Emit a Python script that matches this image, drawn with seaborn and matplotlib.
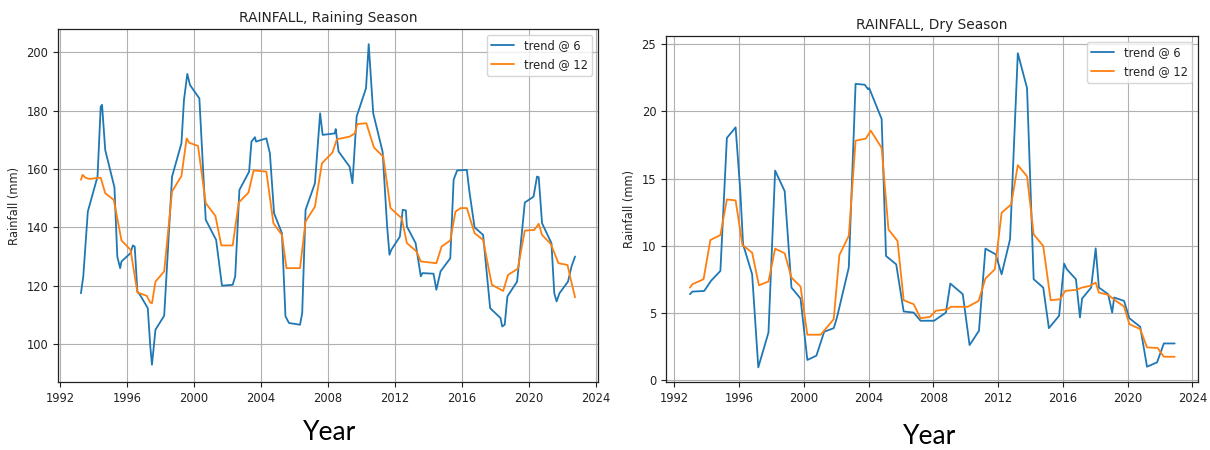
import matplotlib
matplotlib.use("Agg")
import matplotlib.pyplot as plt
import seaborn as sns
import pandas as pd

# ---------------- data ----------------
rain_t6_year = [1993.25, 1993.39, 1993.66, 1994.24, 1994.43, 1994.51, 1994.70, 1995.25, 1995.42, 1995.59,
                1995.67, 1996.20, 1996.35, 1996.46, 1996.62, 1996.77, 1997.24, 1997.39, 1997.49, 1997.70,
                1998.22, 1998.69, 1999.25, 1999.40, 1999.60, 1999.76, 2000.32, 2000.70, 2001.32, 2001.67,
                2002.31, 2002.46, 2002.71, 2003.29, 2003.43, 2003.64, 2003.70, 2004.32, 2004.53, 2004.78,
                2005.25, 2005.46, 2005.67, 2006.33, 2006.46, 2006.66, 2007.22, 2007.53, 2007.68, 2008.40,
                2008.46, 2008.63, 2009.29, 2009.46, 2009.71, 2010.27, 2010.43, 2010.70, 2011.26, 2011.53,
                2011.67, 2011.78, 2012.29, 2012.46, 2012.65, 2012.71, 2013.23, 2013.54, 2013.64, 2014.30,
                2014.47, 2014.72, 2015.30, 2015.50, 2015.71, 2016.29, 2016.43, 2016.75, 2017.26, 2017.68,
                2018.30, 2018.40, 2018.55, 2018.71, 2019.29, 2019.75, 2020.27, 2020.48, 2020.58, 2020.78,
                2021.34, 2021.51, 2021.65, 2021.82, 2022.33, 2022.54, 2022.75]
rain_t6 = [117.4, 123.2, 145.4, 157.4, 181.4, 182.0, 166.5, 153.7, 130.0, 126.0,
           128.3, 131.1, 133.8, 133.4, 118.0, 116.9, 112.3, 99.2, 92.9, 104.9,
           109.7, 157.4, 168.8, 183.6, 192.6, 188.8, 184.2, 142.6, 135.7, 120.0,
           120.3, 123.2, 152.8, 159.1, 169.4, 170.9, 169.4, 170.5, 165.4, 144.8,
           138.0, 109.5, 107.2, 106.6, 110.6, 146.0, 155.1, 179.1, 171.7, 172.2,
           173.7, 166.0, 160.8, 155.1, 178.0, 187.7, 202.8, 179.1, 165.9, 140.3,
           130.6, 132.3, 136.8, 146.0, 145.8, 140.3, 134.6, 123.2, 124.3, 124.1,
           118.6, 124.9, 129.4, 156.3, 159.5, 159.7, 152.8, 140.0, 137.4, 112.3,
           108.9, 106.0, 106.6, 116.3, 121.4, 148.5, 150.5, 157.4, 157.2, 141.4,
           134.6, 117.4, 114.6, 117.4, 121.4, 126.6, 130.0]

rain_t12_year = [1993.25, 1993.35, 1993.52, 1993.76, 1994.43, 1994.70, 1995.21, 1995.42, 1995.67, 1996.21,
                 1996.62, 1997.18, 1997.39, 1997.49, 1997.70, 1998.22, 1998.69, 1999.25, 1999.56, 1999.71,
                 2000.24, 2000.70, 2001.28, 2001.63, 2002.31, 2002.67, 2003.25, 2003.56, 2004.32, 2004.74,
                 2005.25, 2005.52, 2006.33, 2006.66, 2007.22, 2007.64, 2008.26, 2008.53, 2009.29, 2009.60,
                 2009.75, 2010.29, 2010.74, 2011.30, 2011.73, 2012.40, 2012.71, 2013.29, 2013.54, 2014.47,
                 2014.78, 2015.30, 2015.61, 2015.92, 2016.29, 2016.75, 2017.26, 2017.78, 2018.46, 2018.75,
                 2019.33, 2019.75, 2020.31, 2020.58, 2020.78, 2021.30, 2021.76, 2022.30, 2022.50, 2022.75]
rain_t12 = [156.3, 158.0, 157.0, 156.6, 157.0, 151.7, 149.4, 143.1, 135.5, 132.3,
            117.7, 116.5, 114.2, 114.0, 121.4, 124.9, 152.3, 157.6, 170.5, 169.0,
            167.9, 148.3, 143.9, 133.8, 133.8, 148.5, 151.9, 159.5, 159.1, 141.4,
            137.4, 126.0, 126.0, 142.0, 147.1, 162.0, 165.6, 170.2, 171.1, 172.2,
            175.4, 175.7, 167.4, 164.2, 146.6, 143.1, 134.6, 131.7, 128.3, 127.7,
            133.4, 135.5, 145.4, 146.6, 146.6, 138.0, 135.7, 120.3, 118.2, 123.7,
            125.8, 138.9, 139.1, 141.2, 137.4, 134.3, 127.7, 127.1, 122.0, 116.0]

dry_t6_year = [1992.97, 1993.12, 1993.85, 1994.27, 1994.85, 1995.25, 1995.79, 1996.08, 1996.25, 1996.81,
               1997.19, 1997.82, 1998.23, 1998.82, 1999.24, 1999.80, 2000.22, 2000.78, 2001.26, 2001.85,
               2002.05, 2002.78, 2003.20, 2003.77, 2003.97, 2004.04, 2004.81, 2005.08, 2005.71, 2006.17,
               2006.79, 2007.21, 2008.05, 2008.78, 2009.05, 2009.82, 2010.24, 2010.82, 2011.22, 2011.85,
               2012.22, 2012.74, 2013.22, 2013.79, 2014.20, 2014.79, 2015.14, 2015.77, 2016.08, 2016.25,
               2016.81, 2017.06, 2017.19, 2017.75, 2018.03, 2018.23, 2018.80, 2019.05, 2019.17, 2019.78,
               2020.11, 2020.78, 2021.20, 2021.82, 2022.24, 2022.91]
dry_t6 = [6.39, 6.58, 6.63, 7.38, 8.12, 18.02, 18.81, 14.06, 10.10, 7.87,
          0.94, 3.54, 15.59, 14.06, 6.88, 6.06, 1.49, 1.81, 3.59, 3.86,
          4.65, 8.37, 22.05, 21.98, 21.65, 21.73, 19.43, 9.23, 8.61, 5.10,
          5.02, 4.41, 4.41, 5.02, 7.18, 6.39, 2.60, 3.66, 9.78, 9.36,
          7.87, 10.47, 24.33, 21.73, 7.50, 6.88, 3.86, 4.78, 8.66, 8.24,
          7.50, 4.65, 6.06, 6.88, 9.80, 6.88, 6.39, 5.02, 6.14, 5.89,
          4.60, 3.96, 0.99, 1.31, 2.72, 2.72]

dry_t12_year = [1992.97, 1993.12, 1993.81, 1994.23, 1994.85, 1995.25, 1995.79, 1996.21, 1996.81, 1997.23,
                1997.82, 1998.23, 1998.82, 1999.24, 1999.80, 2000.22, 2001.05, 2001.85, 2002.20, 2002.78,
                2003.20, 2003.83, 2004.14, 2004.81, 2005.23, 2005.79, 2006.17, 2006.79, 2007.21, 2007.80,
                2008.15, 2008.88, 2009.09, 2010.13, 2010.80, 2011.22, 2011.80, 2012.22, 2012.81, 2013.22,
                2013.79, 2014.20, 2014.79, 2015.25, 2015.83, 2016.15, 2016.81, 2017.19, 2017.65, 2018.03,
                2018.23, 2018.80, 2019.28, 2019.78, 2020.11, 2020.78, 2021.20, 2021.86, 2022.24, 2022.91]
dry_t12 = [6.88, 7.13, 7.50, 10.42, 10.79, 13.44, 13.37, 10.05, 9.48, 7.05,
           7.33, 9.78, 9.43, 7.62, 6.96, 3.37, 3.37, 4.53, 9.31, 10.72,
           17.82, 17.97, 18.56, 17.28, 11.21, 10.35, 5.94, 5.64, 4.60, 4.70,
           5.15, 5.27, 5.45, 5.45, 5.89, 7.55, 8.24, 12.45, 13.07, 15.99,
           15.17, 10.84, 9.98, 5.94, 6.01, 6.63, 6.71, 6.88, 7.00, 7.25,
           6.51, 6.34, 5.89, 5.47, 4.16, 3.79, 2.43, 2.38, 1.73, 1.73]

series_labels = ["trend @ 6", "trend @ 12"]
titles = ["RAINFALL, Raining Season", "RAINFALL, Dry Season"]
x_ticks = [1992, 1996, 2000, 2004, 2008, 2012, 2016, 2020, 2024]
y_ticks_rain = [100, 120, 140, 160, 180, 200]
y_ticks_dry = [0, 5, 10, 15, 20, 25]
y_label = "Rainfall (mm)"
x_caption = "Year"

# ---------------- style ----------------
sns.set_style("ticks", {"axes.grid": True, "grid.color": "#b0b0b0",
                        "axes.edgecolor": "#222222", "grid.linewidth": 0.8})
plt.rcParams["font.family"] = ["DejaVu Sans"]
plt.rcParams["text.color"] = "#222222"
plt.rcParams["xtick.color"] = "#222222"
plt.rcParams["ytick.color"] = "#222222"

FS = 8.3
C_BLUE = "#1f77b4"
C_ORANGE = "#ff7f0e"

fig = plt.figure(figsize=(12.1, 4.5), dpi=100)
ax1 = fig.add_axes([58/1210, 1-382/450, 540/1210, 353/450])
ax2 = fig.add_axes([666/1210, 1-382/450, 532/1210, 346/450])

def draw(ax, x6, y6, x12, y12, title, yticks, xlim, ylim):
    d6 = pd.DataFrame({"Year": x6, "Rainfall": y6})
    d12 = pd.DataFrame({"Year": x12, "Rainfall": y12})
    sns.lineplot(data=d6, x="Year", y="Rainfall", ax=ax, color=C_BLUE, lw=1.3,
                 label=series_labels[0], estimator=None)
    sns.lineplot(data=d12, x="Year", y="Rainfall", ax=ax, color=C_ORANGE, lw=1.3,
                 label=series_labels[1], estimator=None)
    ax.set_xlim(*xlim)
    ax.set_ylim(*ylim)
    ax.set_xticks(x_ticks)
    ax.set_yticks(yticks)
    ax.tick_params(labelsize=FS, length=3.5, width=0.8)
    ax.set_xlabel("")
    ax.set_ylabel(y_label, fontsize=FS)
    ax.set_title(title, fontsize=9.9, pad=5)
    for s in ax.spines.values():
        s.set_visible(True)
        s.set_linewidth(0.9)
    ax.grid(True, color="#b0b0b0", linewidth=0.8)
    leg = ax.legend(loc="upper right", fontsize=FS, frameon=True, framealpha=0.8,
                    edgecolor="#cccccc", fancybox=True)

draw(ax1, rain_t6_year, rain_t6, rain_t12_year, rain_t12, titles[0], y_ticks_rain,
     (1991.88, 2024.12), (86.97, 208.0))
draw(ax2, dry_t6_year, dry_t6, dry_t12_year, dry_t12, titles[1], y_ticks_dry,
     (1991.49, 2024.35), (-0.15, 25.61))

fig.text(330/1210, 1-433/450, x_caption, ha="center", va="center", fontsize=19,
         family=["Lato", "DejaVu Sans"], color="black")
fig.text(930/1210, 1-436/450, x_caption, ha="center", va="center", fontsize=19,
         family=["Lato", "DejaVu Sans"], color="black")

fig.savefig("out.png", dpi=100)
